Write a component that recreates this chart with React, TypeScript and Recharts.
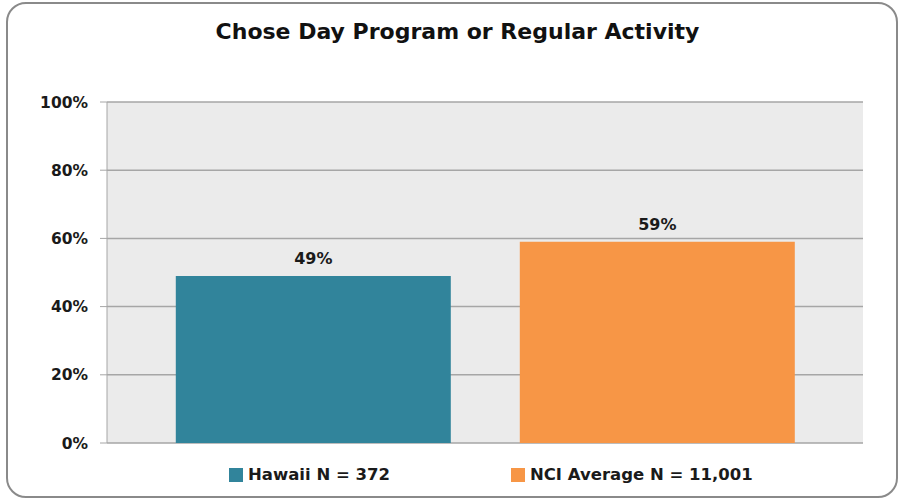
import { BarChart, Bar, XAxis, YAxis, CartesianGrid, Legend, LabelList } from "recharts";

const categories = ["Chose Day Program or Regular Activity"];
const seriesNames = ["Hawaii N = 372", "NCI Average N = 11,001"];
const hawaiiValues = [49];
const nciValues = [59];
const yTicks = [0, 20, 40, 60, 80, 100];

const colors = ["#31849b", "#f79646"];
const font = "'DejaVu Sans', sans-serif";

const data = categories.map((name, i) => ({
  name,
  hawaii: hawaiiValues[i],
  nci: nciValues[i],
}));

function LegendContent() {
  return (
    <div style={{ display: "flex", justifyContent: "flex-start", gap: 121, paddingTop: 22, paddingLeft: 229, fontFamily: font, fontWeight: 700, fontSize: 16.5, color: "#1a1a1a" }}>
      {seriesNames.map((n, i) => (
        <div key={n} style={{ display: "flex", alignItems: "center", whiteSpace: "nowrap" }}>
          <span style={{ display: "inline-block", width: 14, height: 14, background: colors[i], marginRight: 5 }} />
          <span>{n}</span>
        </div>
      ))}
    </div>
  );
}

export default function App() {
  return (
    <div style={{ position: "absolute", left: 0, top: 0, width: 900, height: 499, background: "#fff", overflow: "hidden" }}>
      <div style={{ position: "absolute", left: 6, top: 2, width: 888, height: 492, border: "2px solid #8a8a8a", borderRadius: 20 }} />
      <div style={{ position: "absolute", left: 0, top: 19, width: 915, textAlign: "center", fontFamily: font, fontWeight: 700, fontSize: 22, color: "#111" }}>
        {categories[0]}
      </div>
      <div style={{ position: "absolute", left: 0, top: 0 }}>
        <BarChart width={900} height={499} data={data} margin={{ top: 102, right: 37, bottom: 0, left: 0 }} barCategoryGap="9.1%" barGap={69}>
          <CartesianGrid vertical={false} fill="#ebebeb" stroke="#a6a6a6" strokeWidth={1.5} />
          <XAxis dataKey="name" hide />
          <YAxis
            domain={[0, 100]}
            ticks={yTicks}
            width={107}
            tickSize={7}
            tickMargin={12}
            axisLine={{ stroke: "#a6a6a6" }}
            tickLine={{ stroke: "#a6a6a6" }}
            tickFormatter={(v) => `${v}%`}
            tick={{ fill: "#1a1a1a", fontSize: 15.5, fontWeight: 700, fontFamily: font }}
            interval={0}
          />
          <Legend verticalAlign="bottom" height={56} content={<LegendContent />} />
          <Bar dataKey="hawaii" name={seriesNames[0]} fill={colors[0]} isAnimationActive={false}>
            <LabelList dataKey="hawaii" position="top" offset={12} formatter={(v) => `${v}%`} style={{ fill: "#1a1a1a", fontSize: 16, fontWeight: 700, fontFamily: font }} />
          </Bar>
          <Bar dataKey="nci" name={seriesNames[1]} fill={colors[1]} isAnimationActive={false}>
            <LabelList dataKey="nci" position="top" offset={12} formatter={(v) => `${v}%`} style={{ fill: "#1a1a1a", fontSize: 16, fontWeight: 700, fontFamily: font }} />
          </Bar>
        </BarChart>
      </div>
    </div>
  );
}
